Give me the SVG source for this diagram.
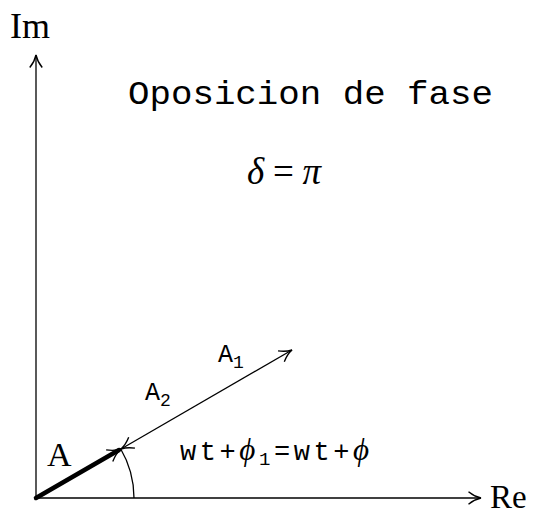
<svg xmlns="http://www.w3.org/2000/svg" width="543" height="515" viewBox="0 0 543 515">
<style>
.ax{stroke:#000;stroke-width:1.3;fill:none}
.serif{font-family:"Liberation Serif","DejaVu Serif",serif;fill:#000}
.mono{font-family:"Liberation Mono","DejaVu Sans Mono",monospace;fill:#000}
</style>
<defs>
<marker id="ah" viewBox="0 0 12 12" refX="11" refY="6" markerWidth="15" markerHeight="15" markerUnits="userSpaceOnUse" orient="auto-start-reverse">
<path d="M1,1 Q6,5 11,6 Q6,7 1,11" fill="none" stroke="#000" stroke-width="1.1"/>
</marker>
<marker id="ah2" viewBox="0 0 12 12" refX="11" refY="6" markerWidth="16" markerHeight="16" markerUnits="userSpaceOnUse" orient="auto">
<path d="M1,1 Q6,5 11,6 Q6,7 1,11" fill="none" stroke="#000" stroke-width="1"/>
</marker>
</defs>
<g id="connectors">
<line class="ax" x1="36" y1="498" x2="36" y2="55" marker-end="url(#ah)"/>
<line class="ax" x1="36" y1="498" x2="481" y2="498" marker-end="url(#ah)"/>
<line x1="36" y1="498" x2="119" y2="450" stroke="#000" stroke-width="4.5" stroke-linecap="round"/>
<line x1="36" y1="498" x2="121" y2="449" stroke="none" marker-end="url(#ah2)"/>
<line class="ax" x1="121" y1="449" x2="292" y2="350" stroke-width="1.2" marker-start="url(#ah)" marker-end="url(#ah)"/>
<path class="ax" d="M134,498 A98,98 0 0 0 120.5,448.5" stroke-width="1"/>
</g>
<g id="labels">
<text class="serif" x="10" y="38" font-size="36">Im</text>
<text class="serif" x="490" y="508" font-size="33">Re</text>
<text class="mono" x="128" y="104" font-size="34" textLength="365" lengthAdjust="spacingAndGlyphs">Oposicion de fase</text>
<text class="serif" x="247" y="184" font-size="37" font-style="italic" textLength="74" lengthAdjust="spacing">δ<tspan font-style="normal">=</tspan>π</text>
<text class="serif" x="47" y="466" font-size="34">A</text>
<text class="mono" x="218" y="362" font-size="25">A<tspan font-size="18" dy="6">1</tspan></text>
<text class="mono" x="145" y="400" font-size="25">A<tspan font-size="18" dy="6">2</tspan></text>
<text class="mono" x="180" y="460" font-size="27" textLength="189" lengthAdjust="spacing">wt+<tspan class="serif" font-style="italic" font-size="31">ϕ</tspan><tspan font-size="19" dy="5">1</tspan><tspan dy="-5">=wt+</tspan><tspan class="serif" font-style="italic" font-size="31">ϕ</tspan></text>
</g>
</svg>
